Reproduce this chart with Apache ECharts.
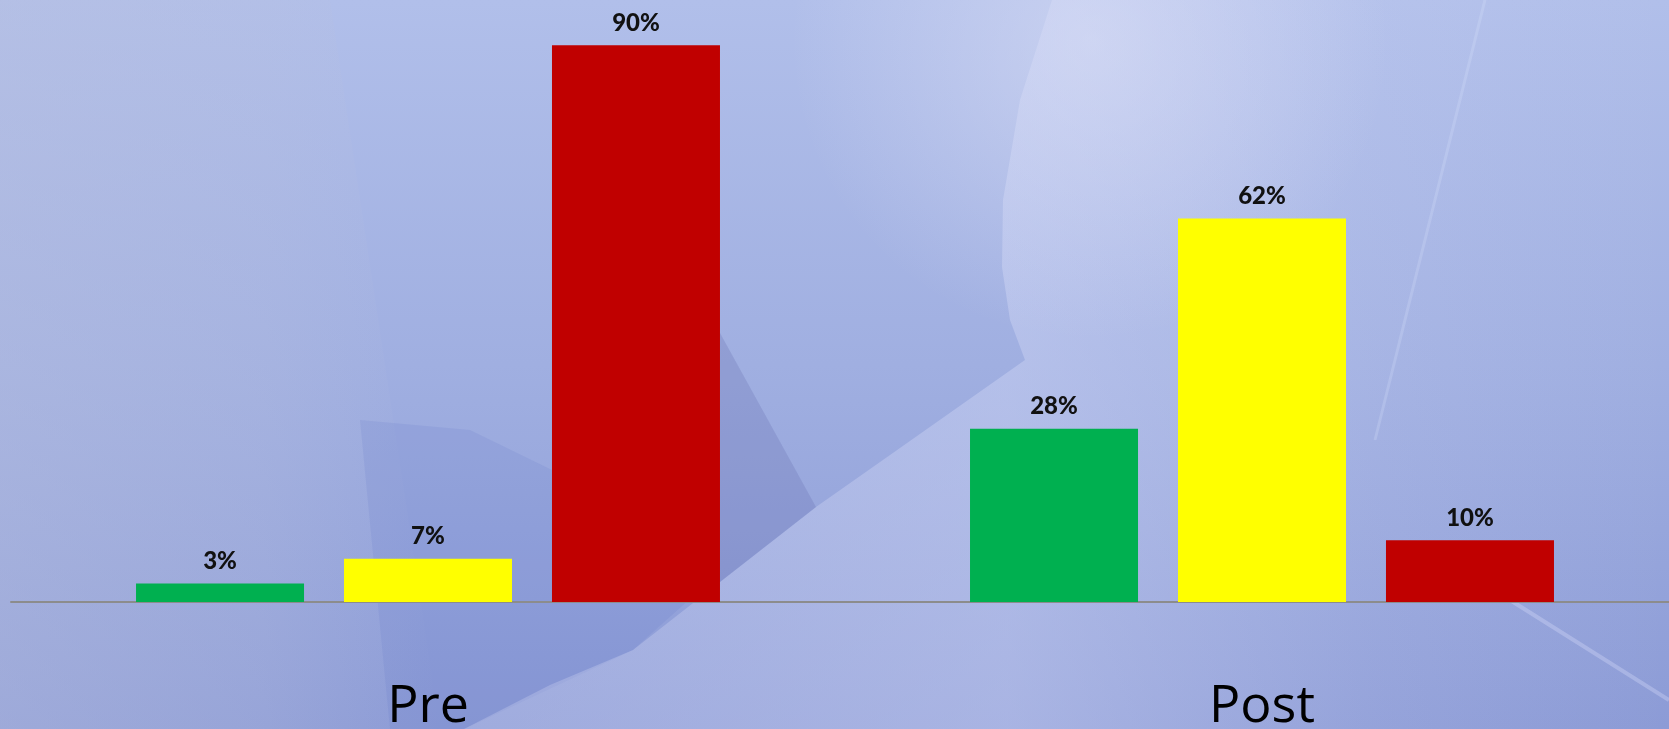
<!DOCTYPE html>
<html>
<head>
<meta charset="utf-8">
<script src="https://cdn.jsdelivr.net/npm/echarts@6/dist/echarts.min.js"></script>
<style>
html,body{margin:0;padding:0;width:1669px;height:729px;overflow:hidden;background:#a3b1e2;}
#c{width:1669px;height:729px;}
</style>
</head>
<body>
<div id="c"></div>
<script>
const categories = ['Pre', 'Post'];
const seriesNames = ['Green', 'Yellow', 'Red'];
const greenValues = [3, 28];
const yellowValues = [7, 62];
const redValues = [90, 10];

const chart = echarts.init(document.getElementById('c'), null, {renderer: 'canvas'});
const colors = ['#00b050', '#ffff00', '#c00000'];
const dataSets = [greenValues, yellowValues, redValues];

const labelStyle = {
  show: true,
  position: 'top',
  distance: 10,
  formatter: p => p.value + '%',
  fontFamily: 'Lato',
  fontWeight: 900,
  fontSize: 24,
  color: '#111'
};

const option = {
  animation: false,
  backgroundColor: 'transparent',
  graphic: [
    {type: 'rect', z: -20, silent: true, shape: {x: 0, y: 0, width: 1669, height: 729},
     style: {fill: {type: 'linear', x: 0, y: 0, x2: 0, y2: 1, colorStops: [
       {offset: 0, color: '#b1bfea'}, {offset: 0.5, color: '#a0afe1'}, {offset: 1, color: '#8c9bd6'}]}}},
    {type: 'polygon', z: -19, silent: true, shape: {points: [[0,0],[330,0],[440,729],[0,729]]},
     style: {fill: {type: 'linear', x: 0, y: 0, x2: 1, y2: 0, colorStops: [
       {offset: 0, color: 'rgba(185,192,222,0.40)'}, {offset: 0.6, color: 'rgba(185,192,222,0.25)'}, {offset: 1, color: 'rgba(185,192,222,0)'}]}}},
    {type: 'polygon', z: -19, silent: true, smooth: 0.3,
     shape: {points: [[360,420],[470,430],[552,470],[552,600],[700,590],[633,650],[464,729],[390,729]]},
     style: {fill: 'rgba(95,115,200,0.14)'}},
    {type: 'polygon', z: -18, silent: true,
     shape: {points: [[464,729],[550,685],[633,650],[720,582],[816,507],[900,448],[1025,360],[1010,320],[1002,267],[1003,200],[1020,100],[1052,0],[1669,0],[1669,729]]},
     style: {fill: {type: 'linear', x: 464, y: 0, x2: 1669, y2: 0, global: true, colorStops: [
       {offset: 0, color: 'rgba(205,210,240,0.30)'}, {offset: 0.45, color: 'rgba(215,220,248,0.38)'}, {offset: 0.75, color: 'rgba(215,220,248,0.12)'}, {offset: 1, color: 'rgba(215,220,248,0)'}]}}},
    {type: 'polygon', z: -18, silent: true, shape: {points: [[720,333],[816,507],[720,582]]},
     style: {fill: 'rgba(100,110,175,0.26)'}},
    {type: 'circle', z: -18, silent: true, shape: {cx: 1090, cy: 40, r: 300},
     style: {fill: {type: 'radial', x: 0.5, y: 0.5, r: 0.5, colorStops: [
       {offset: 0, color: 'rgba(228,230,248,0.45)'}, {offset: 1, color: 'rgba(228,230,248,0)'}]}}},
    {type: 'line', z: -17, silent: true, shape: {x1: 1485, y1: 0, x2: 1375, y2: 440},
     style: {stroke: 'rgba(225,230,255,0.22)', lineWidth: 3}},
    {type: 'line', z: -17, silent: true, shape: {x1: 1510, y1: 600, x2: 1669, y2: 700},
     style: {stroke: 'rgba(225,230,255,0.3)', lineWidth: 4}}
  ],
  grid: {left: 11, right: -10, top: 0, bottom: 127, containLabel: false, outerBoundsMode: 'none'},
  xAxis: {
    type: 'category',
    data: categories,
    axisLine: {show: true, lineStyle: {color: '#8c8c8c', width: 2}},
    axisTick: {show: false},
    axisLabel: {fontFamily: 'Open Sans', fontSize: 52, color: '#000', margin: 79, lineHeight: 52}
  },
  yAxis: {type: 'value', min: 0, max: 97.3, show: false, splitLine: {show: false}},
  series: dataSets.map((d, i) => ({
    name: seriesNames[i],
    type: 'bar',
    data: d,
    barWidth: 168,
    barGap: '23.8%',
    itemStyle: {color: colors[i]},
    label: labelStyle
  }))
};
chart.setOption(option);
</script>
</body>
</html>
